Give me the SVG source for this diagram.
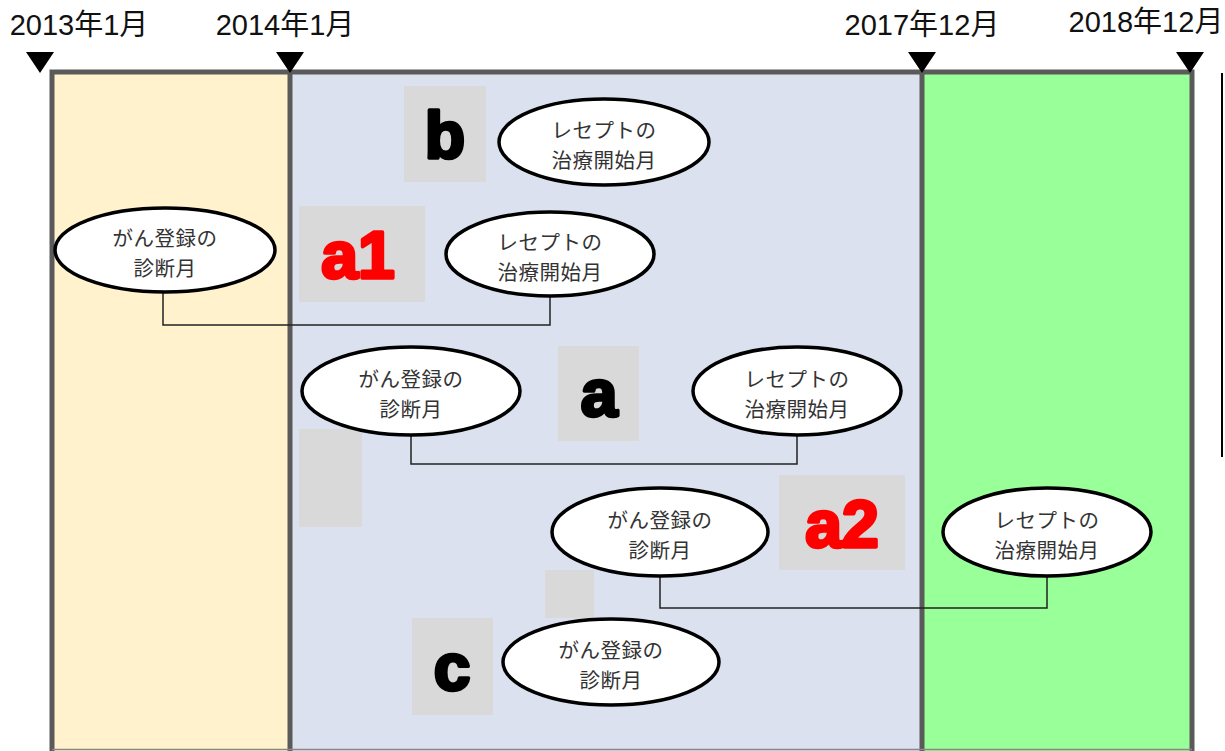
<svg xmlns="http://www.w3.org/2000/svg" width="1225" height="751" viewBox="0 0 1225 751">
<defs>
<style>
.date{font-family:"Liberation Sans","Noto Sans CJK JP",sans-serif;font-size:29px;fill:#111;text-anchor:middle}
.node ellipse{fill:#fff;stroke:#000;stroke-width:3.5}
.node text{font-family:"Noto Sans CJK JP",sans-serif;font-size:20.5px;fill:#333;text-anchor:middle;letter-spacing:0.5px}
.tag rect{fill:#d9d9d9}
.tag text{font-family:"Liberation Sans",sans-serif;font-weight:bold;font-size:66px;text-anchor:middle;stroke-width:3.5;stroke-linejoin:round}
.blk{fill:#000;stroke:#000}
.red{fill:#f00;stroke:#f00}
.conn{fill:none;stroke:#222;stroke-width:1.5}
</style>
</defs>
<rect width="1225" height="751" fill="#fff"/>
<g id="panels">
<rect x="52" y="72" width="238" height="690" fill="#fff2cc"/>
<rect x="290" y="72" width="632" height="690" fill="#dce1f0"/>
<rect x="922" y="72" width="270" height="690" fill="#99ff99"/>
<path d="M52 760V72H1192V760M290 72V760M922 72V760" fill="none" stroke="#5a5a5a" stroke-width="5"/>
<line x1="52" y1="749.5" x2="1192" y2="749.5" stroke="#888" stroke-width="1.5"/>
<line x1="1222" y1="73" x2="1222" y2="457" stroke="#000" stroke-width="2"/>
</g>
<g id="timeline">
<path d="M26 52H54L40 73Z M276 52H304L290 73Z M908 52H936L922 73Z M1176 52H1204L1190 73Z" fill="#000"/>
<text class="date" x="79" y="35">2013年1月</text>
<text class="date" x="285" y="35">2014年1月</text>
<text class="date" x="922" y="35">2017年12月</text>
<text class="date" x="1146" y="32">2018年12月</text>
</g>
<g id="tags">
<g id="tag-b" class="tag"><rect x="404" y="86" width="82" height="96"/><text class="blk" x="445" y="158">b</text></g>
<g id="tag-a1" class="tag"><rect x="299" y="206" width="126" height="96"/><text class="red" x="358" y="278">a1</text></g>
<g id="tag-a" class="tag"><rect x="558" y="346" width="81" height="95"/><text class="blk" x="599" y="416">a</text></g>
<g id="blank1" class="tag"><rect x="299" y="429" width="63" height="98"/></g>
<g id="tag-a2" class="tag"><rect x="779" y="475" width="126" height="95"/><text class="red" x="842" y="547">a2</text></g>
<g id="blank2" class="tag"><rect x="545" y="570" width="49" height="48"/></g>
<g id="tag-c" class="tag"><rect x="412" y="618" width="81" height="97"/><text class="blk" x="452" y="690">c</text></g>
</g>
<g id="connectors">
<path class="conn" d="M163 292V325H550V296"/>
<path class="conn" d="M411 435V464H797V435"/>
<path class="conn" d="M660 576V608H1047V576"/>
</g>
<g id="n1" class="node"><ellipse cx="604" cy="142" rx="105" ry="43"/><text x="604" y="138">レセプトの</text><text x="604" y="168">治療開始月</text></g>
<g id="n2" class="node"><ellipse cx="165" cy="250" rx="110" ry="42"/><text x="165" y="246">がん登録の</text><text x="165" y="276">診断月</text></g>
<g id="n3" class="node"><ellipse cx="550" cy="254" rx="104" ry="42"/><text x="550" y="250">レセプトの</text><text x="550" y="280">治療開始月</text></g>
<g id="n4" class="node"><ellipse cx="411" cy="391" rx="109" ry="44"/><text x="411" y="387">がん登録の</text><text x="411" y="417">診断月</text></g>
<g id="n5" class="node"><ellipse cx="797" cy="391" rx="104" ry="44"/><text x="797" y="387">レセプトの</text><text x="797" y="417">治療開始月</text></g>
<g id="n6" class="node"><ellipse cx="660" cy="532" rx="108" ry="44"/><text x="660" y="528">がん登録の</text><text x="660" y="558">診断月</text></g>
<g id="n7" class="node"><ellipse cx="1047" cy="532" rx="104" ry="44"/><text x="1047" y="528">レセプトの</text><text x="1047" y="558">治療開始月</text></g>
<g id="n8" class="node"><ellipse cx="611" cy="662" rx="108" ry="43"/><text x="611" y="658">がん登録の</text><text x="611" y="688">診断月</text></g>
</svg>
